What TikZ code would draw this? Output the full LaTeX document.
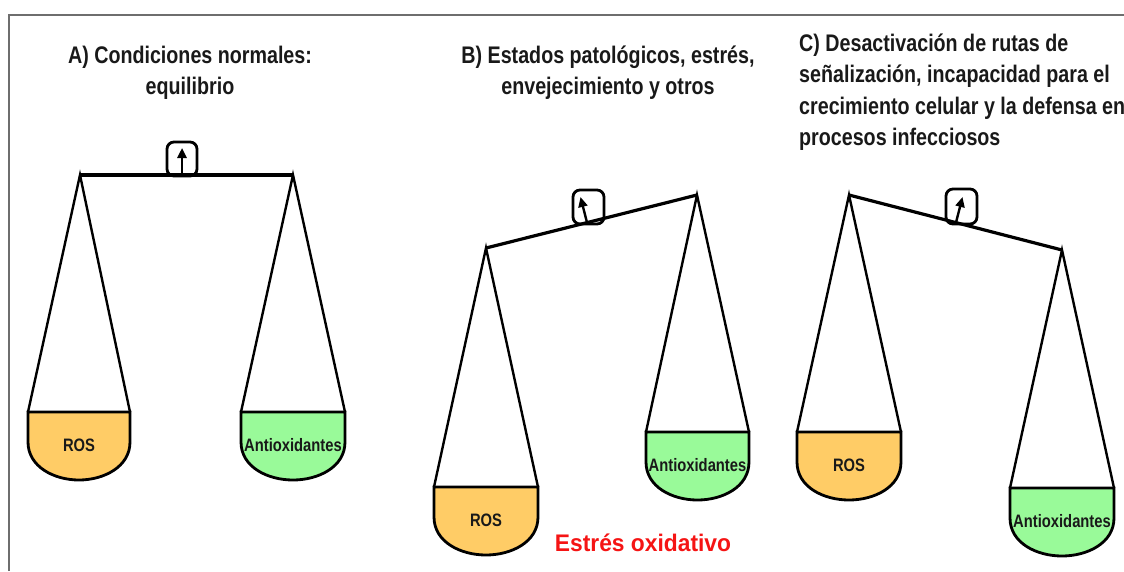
\documentclass[tikz,border=0pt]{standalone}
\usepackage{fontspec}
\setmainfont{Liberation Sans}
\newfontfamily\condfont[FakeStretch=0.82]{Liberation Sans}
\newfontfamily\panfont[FakeStretch=0.82]{Liberation Sans}
\newfontfamily\redfont[FakeStretch=0.95]{Liberation Sans}
\usetikzlibrary{arrows.meta}
\definecolor{rosfill}{RGB}{255,204,102}
\definecolor{antifill}{RGB}{153,250,153}
\definecolor{framegray}{RGB}{110,110,110}
\definecolor{stressred}{RGB}{245,20,20}
\tikzset{
  frameline/.style={draw=framegray,line width=2.2pt},
  beam/.style={draw=black,line width=3.2pt},
  rope/.style={draw=black,line width=2.4pt},
  panbody/.style={draw=black,line width=2.8pt,fill=#1},
  pivotbox/.style={draw=black,line width=2.8pt,rounded corners=7pt,fill=white},
  pointer/.style={draw=black,line width=2.4pt,-{Triangle[length=10pt,width=9pt]}},
  title/.style={font=\condfont\bfseries\fontsize{24}{31}\selectfont,text=black!90,inner sep=0pt},
  pantext/.style={font=\panfont\bfseries\fontsize{18}{20}\selectfont,text=black!90,inner sep=0pt},
  redtext/.style={font=\redfont\bfseries\fontsize{24}{28}\selectfont,text=stressred,inner sep=0pt}
}
% name, x1, x2, top, fill, label
\newcommand\drawpan[6]{%
  \pgfmathsetmacro\pmid{(#2+#3)/2}%
  \pgfmathsetmacro\pside{#4+30}%
  \pgfmathsetmacro\pbot{#4+68}%
  \pgfmathsetmacro\ptext{#4+39}%
  \path[panbody=#5] (#2,#4) -- (#2,\pside) to[out=-90,in=180] (\pmid,\pbot)
     to[out=0,in=-90] (#3,\pside) -- (#3,#4) -- cycle;
  \coordinate (#1l) at (#2,#4);
  \coordinate (#1r) at (#3,#4);
  \node[pantext,anchor=base] (#1t) at (\pmid,\ptext) {#6};
}
\begin{document}
\begin{tikzpicture}[x=1pt,y=-1pt]
\useasboundingbox (0,0) rectangle (1124,571);
\coordinate (fbl) at (9,571);
\coordinate (ftl) at (9,15);
\coordinate (ftr) at (1124,15);
\draw[frameline] (fbl) -- (ftl) -- (ftr);

% ---------- titles ----------
\node[title,anchor=base] (tA1) at (190,63) {A) Condiciones normales:};
\node[title,anchor=base] (tA2) at (190,94) {equilibrio};
\node[title,anchor=base] (tB1) at (608,63) {B) Estados patológicos, estrés,};
\node[title,anchor=base] (tB2) at (608,94) {envejecimiento y otros};
\node[title,anchor=base west] (tC1) at (799,51) {C) Desactivación de rutas de};
\node[title,anchor=base west] (tC2) at (799,82) {señalización, incapacidad para el};
\node[title,anchor=base west] (tC3) at (799,114) {crecimiento celular y la defensa en};
\node[title,anchor=base west] (tC4) at (799,145) {procesos infecciosos};

% ---------- balance A ----------
\coordinate (aL) at (80,175);
\coordinate (aR) at (293,175);
\coordinate (aP) at (182,175);
\coordinate (aT) at (182,148);
\path[pivotbox] (167,142) rectangle (197,176);
\draw[beam] (aL) -- (aR);
\draw[pointer] (aP) -- (aT);
\drawpan{aros}{28}{130}{412}{rosfill}{ROS}
\drawpan{aant}{241}{345}{412}{antifill}{Antioxidantes}
\draw[rope] (arosl) -- (aL) -- (arosr);
\draw[rope] (aantl) -- (aR) -- (aantr);

% ---------- balance B ----------
\coordinate (bL) at (486,248);
\coordinate (bR) at (697,195);
\coordinate (bP) at (587,222.5);
\coordinate (bT) at (580.5,197);
\path[pivotbox] (573,190) rectangle (604,224);
\draw[beam] (bL) -- (bR);
\draw[pointer] (bP) -- (bT);
\drawpan{bros}{434}{538}{487}{rosfill}{ROS}
\drawpan{bant}{646}{749}{432}{antifill}{Antioxidantes}
\draw[rope] (brosl) -- (bL) -- (brosr);
\draw[rope] (bantl) -- (bR) -- (bantr);
\node[redtext,anchor=base] (stress) at (643,551) {Estrés oxidativo};

% ---------- balance C ----------
\coordinate (cL) at (849,195);
\coordinate (cR) at (1062,250);
\coordinate (cP) at (956,222.5);
\coordinate (cT) at (962.5,197);
\path[pivotbox] (946,189) rectangle (977,224);
\draw[beam] (cL) -- (cR);
\draw[pointer] (cP) -- (cT);
\drawpan{cros}{797}{901}{432}{rosfill}{ROS}
\drawpan{cant}{1010}{1114}{488}{antifill}{Antioxidantes}
\draw[rope] (crosl) -- (cL) -- (crosr);
\draw[rope] (cantl) -- (cR) -- (cantr);
\end{tikzpicture}
\end{document}
